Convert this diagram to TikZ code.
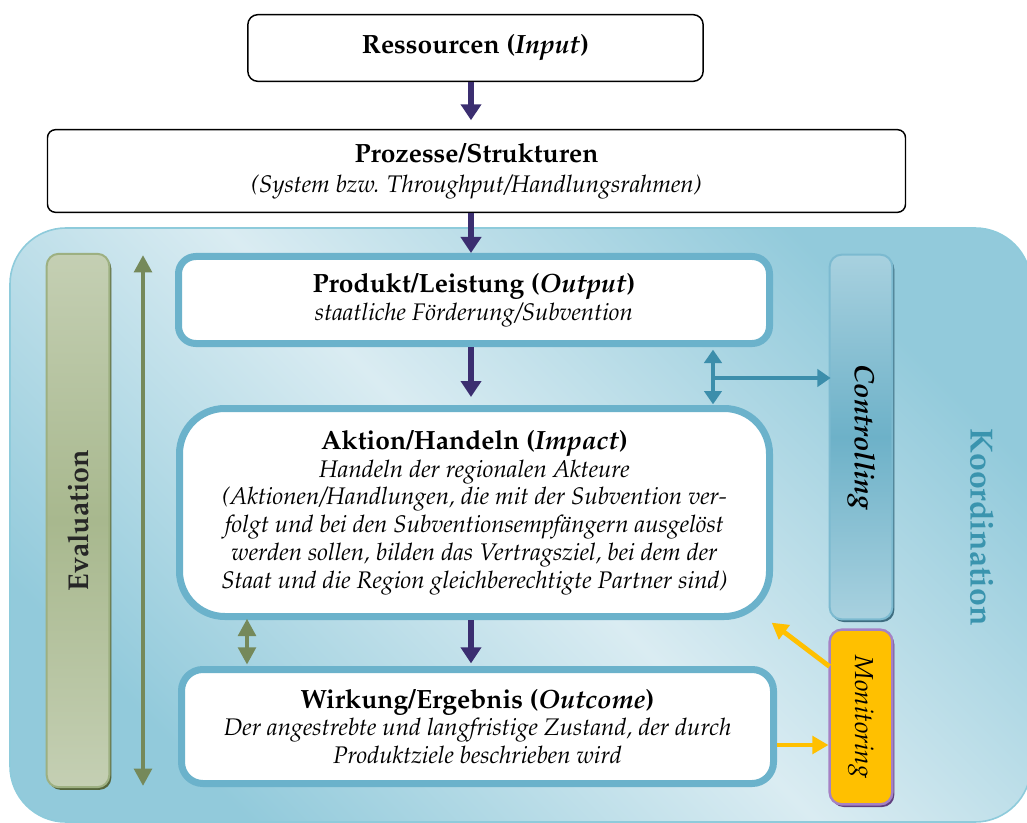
\documentclass[tikz,border=0pt]{standalone}
\usepackage[T1]{fontenc}
\usepackage{mathpazo}
\usetikzlibrary{arrows.meta,shadows,calc}
\definecolor{boxblue}{HTML}{6BB2CB}
\definecolor{parrowc}{HTML}{3B2E70}
\definecolor{barrowc}{HTML}{3C8EAB}
\definecolor{garrowc}{HTML}{75895A}
\definecolor{yarrowc}{HTML}{FFC000}
\definecolor{evalborder}{HTML}{9DB081}
\definecolor{evaltop}{HTML}{C4CFB3}
\definecolor{evalmid}{HTML}{A8B88E}
\definecolor{evalshadow}{HTML}{56663C}
\definecolor{contrtop}{HTML}{A8D1DF}
\definecolor{contrmid}{HTML}{6DB1C8}
\definecolor{contrborder}{HTML}{7CBAD0}
\definecolor{contrshadow}{HTML}{3D6D80}
\definecolor{monfill}{HTML}{FFC000}
\definecolor{monborder}{HTML}{A582C5}
\definecolor{monshadow}{HTML}{60407F}
\definecolor{bglight}{HTML}{DAECF2}
\definecolor{bgdark}{HTML}{92CADB}
\definecolor{bgborder}{HTML}{8ECBDB}
\definecolor{koordc}{HTML}{3A94AE}
\newcommand{\bodyfont}{\fontsize{18}{20.8}\selectfont}
\newcommand{\ttl}[1]{{\fontsize{19.8}{20.8}\selectfont\bfseries #1}}
\tikzset{
  BTip/.tip={Triangle[width=13pt,length=10pt]},
  GTip/.tip={Triangle[width=13pt,length=13pt]},
  topbox/.style={draw=black, line width=1.1pt, fill=white, align=center, inner sep=0pt, font=\bodyfont},
  bluebox/.style={draw=boxblue, line width=5.25pt, fill=white, align=center, inner sep=0pt, font=\bodyfont},
  parrow/.style={draw=parrowc, line width=3.8pt, -{Triangle[width=15pt,length=12pt]}},
  barrow/.style={draw=barrowc, line width=3.6pt},
  garrow/.style={draw=garrowc, line width=3.3pt},
  yarrow/.style={draw=yarrowc, line width=3.6pt, -{Triangle[width=13pt,length=12pt]}},
  evalbar/.style={draw=evalborder, line width=1.5pt, rounded corners=9pt, top color=evaltop, bottom color=evaltop, middle color=evalmid, inner sep=0pt, minimum width=47pt, general shadow={fill=evalshadow, shadow xshift=1.5pt, shadow yshift=-2pt}},
  contrbar/.style={draw=contrborder, line width=1.5pt, rounded corners=9pt, top color=contrtop, bottom color=contrtop, middle color=contrmid, inner sep=0pt, minimum width=47pt, general shadow={fill=contrshadow, shadow xshift=1.5pt, shadow yshift=-2pt}},
  monbar/.style={draw=monborder, line width=1.8pt, rounded corners=9pt, fill=monfill, inner sep=0pt, minimum width=47pt, general shadow={fill=monshadow, shadow xshift=1.5pt, shadow yshift=-2pt}},
}
\begin{document}
\begin{tikzpicture}[x=0.75pt,y=-0.75pt]
\useasboundingbox (0,0) rectangle (1027,823);
% background region
\path[draw=bgborder, line width=1.2pt, rounded corners=42pt, shading=axis, top color=bgdark, bottom color=bgdark, middle color=bglight, shading angle=-45] (10,228) rectangle (1031,822);

% top boxes
\node[topbox, rounded corners=7.5pt, minimum width=341.5pt, minimum height=50pt] (res) at (475.5,48) {\ttl{Ressourcen (\textit{Input})}};
\node[topbox, rounded corners=6pt, minimum width=643.5pt, minimum height=62pt] (proz) at (476.5,171)
  {\ttl{Prozesse/Strukturen}\\[2pt]\textit{(System bzw. Throughput/Handlungsrahmen)}};

% blue boxes
\node[bluebox, rounded corners=13pt, minimum width=443.25pt, minimum height=65.25pt] (prod) at (474,300)
  {\ttl{Produkt/Leistung (\textit{Output})}\\\textit{staatliche F\"orderung/Subvention}};
\node[bluebox, rounded corners=34pt, minimum width=442.5pt, minimum height=156pt] (akt) at (474.5,512.5)
  {\ttl{Aktion/Handeln (\textit{Impact})}\\\textit{Handeln der regionalen Akteure}\\
   \textit{(Aktionen/Handlungen, die mit der Subvention ver-}\\
   \textit{folgt und bei den Subventionsempf\"angern ausgel\"ost}\\
   \textit{werden sollen, bilden das Vertragsziel, bei dem der}\\
   \textit{Staat und die Region gleichberechtigte Partner sind)}};
\node[bluebox, rounded corners=16pt, minimum width=444pt, minimum height=85.5pt] (wirk) at (477.5,726.5)
  {\ttl{Wirkung/Ergebnis (\textit{Outcome})}\\\textit{Der angestrebte und langfristige Zustand, der durch}\\\textit{Produktziele beschrieben wird}};

% side bars
\node[evalbar, minimum height=400pt] (eval) at (78,520.5) {};
\node[rotate=90, font=\fontsize{21.5}{24}\selectfont\bfseries, text=black!85] (evaltxt) at (eval.center) {Evaluation};
\node[contrbar, minimum height=273.5pt] (contr) at (861,437) {};
\node[rotate=-90, font=\fontsize{21}{24}\selectfont\bfseries\itshape] (contrtxt) at (contr.center) {Controlling};
\node[monbar, minimum height=131pt] (mon) at (861,717) {};
\node[rotate=-90, font=\fontsize{19.5}{22}\selectfont\itshape] (montxt) at (mon.center) {Monitoring};
\node[rotate=-90, font=\fontsize{24}{27}\selectfont\bfseries, text=koordc] (koord) at (982,527) {Koordination};

% main flow arrows
\coordinate (colx) at (471,0);
\draw[parrow, shorten >=6.5pt] (res.south -| colx) -- (proz.north -| colx);
\draw[parrow] (proz.south -| colx) -- (prod.north -| colx);
\draw[parrow, shorten >=6pt] (prod.south -| colx) -- (akt.north -| colx);
\draw[parrow, shorten >=2pt] (akt.south -| colx) -- (wirk.north -| colx);

% controlling arrows
\coordinate (bx) at (713,378);
\draw[barrow, {BTip}-{BTip}] ([yshift=-2pt]prod.south -| bx) -- ([yshift=0.5pt]akt.north -| bx);
\draw[barrow, -{BTip}] (bx) -- ([xshift=1.5pt]contr.west |- bx);

% evaluation arrows
\coordinate (gx) at (247,0);
\draw[garrow, {GTip}-{GTip}] ([yshift=1pt]akt.south -| gx) -- ([yshift=1pt]wirk.north -| gx);
\coordinate (gt) at (143,255);
\coordinate (gb) at (143,786);
\draw[garrow, {GTip}-{GTip}] (gt) -- (gb);

% monitoring arrows
\coordinate (ym) at ($(mon.north west)+(1,38)$);
\draw[yarrow] (ym) -- ([xshift=-1pt,yshift=-2pt]akt.south east);
\coordinate (yw) at ($(wirk.east)+(0,18.5)$);
\draw[yarrow] (yw) -- (yw -| mon.west);
\end{tikzpicture}
\end{document}
